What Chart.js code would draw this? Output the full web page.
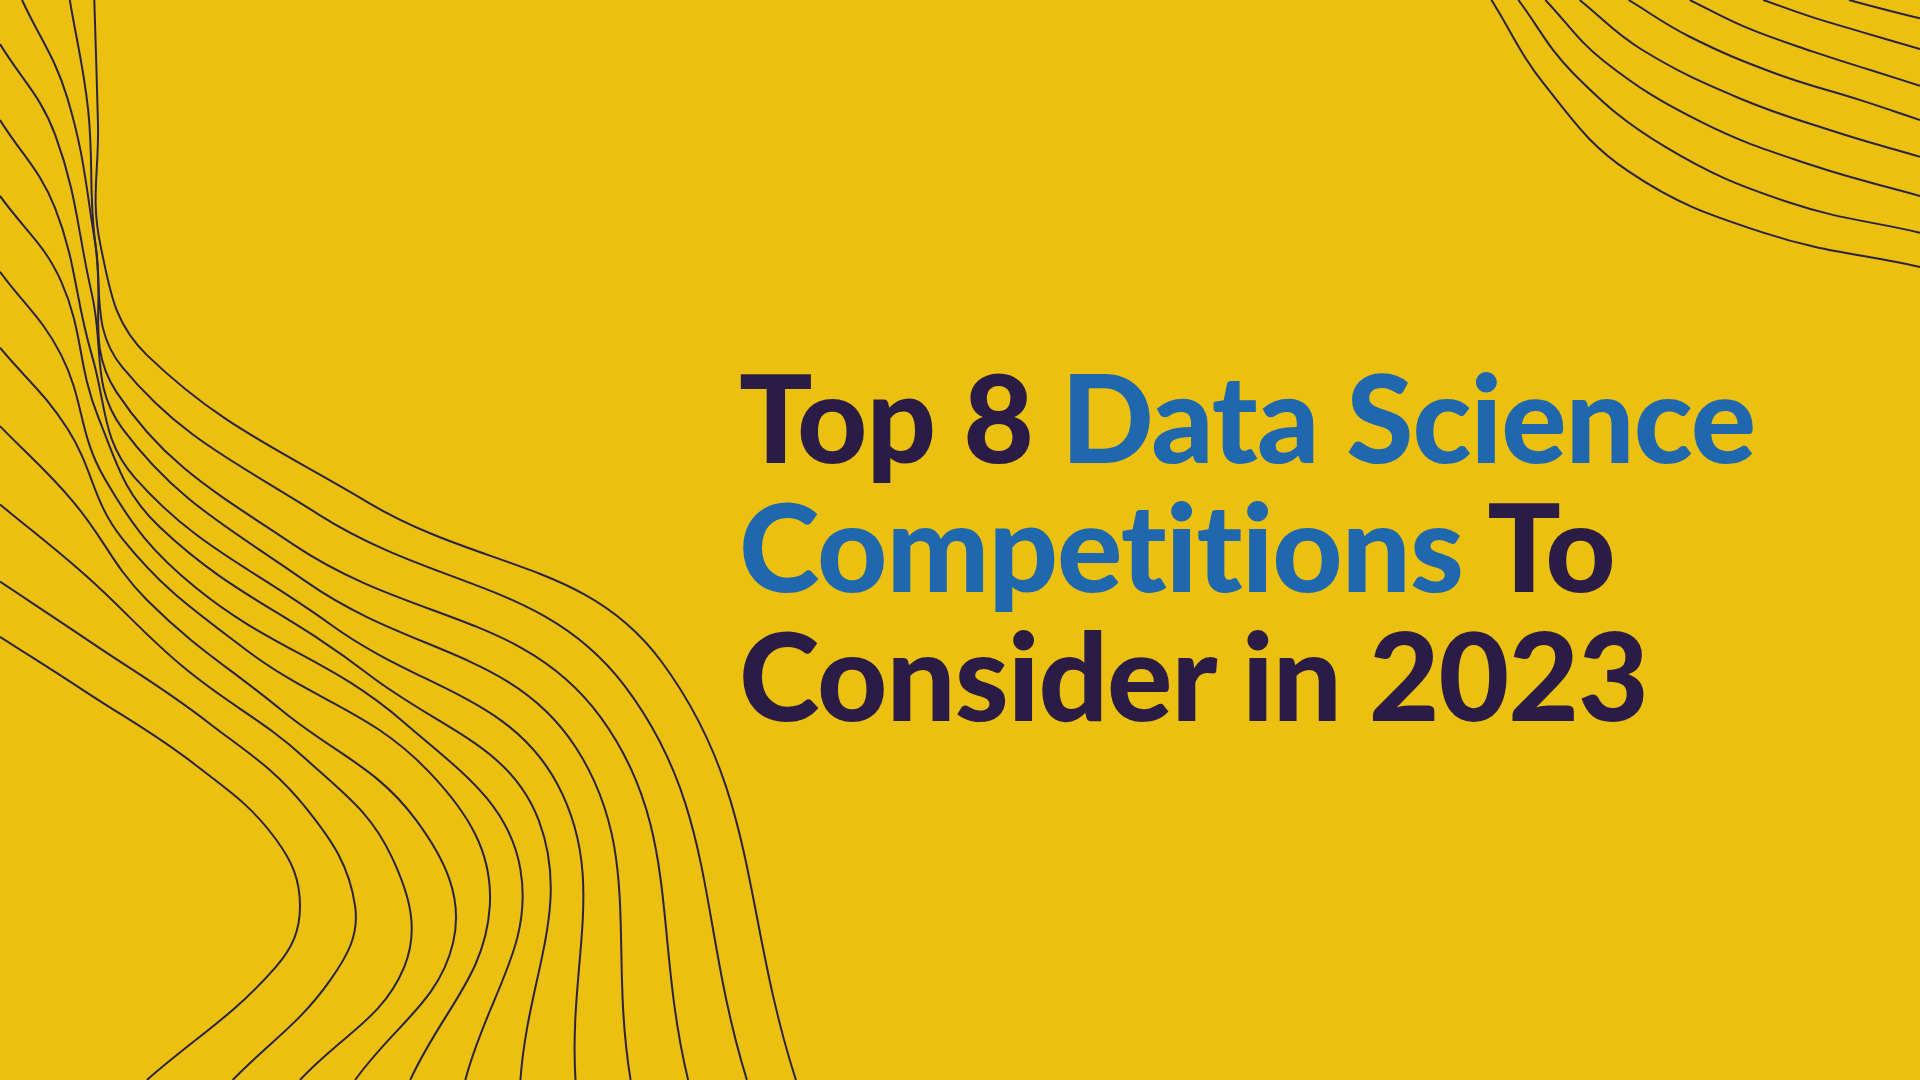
<!DOCTYPE html>
<html>
<head>
<meta charset="utf-8">
<script src="https://cdn.jsdelivr.net/npm/chart.js@4"></script>
<style>
  html, body { margin: 0; padding: 0; width: 1920px; height: 1080px; overflow: hidden; background: #ebc010; }
  #wrap { position: absolute; left: 0; top: 0; width: 1920px; height: 1080px; }
  .title {
    position: absolute; left: 739px; top: 352px;
    font-family: Lato, sans-serif; font-weight: 900; font-size: 122px;
    line-height: 129px; color: #2a1c45; letter-spacing: -1px; white-space: nowrap;
  }
  .blue { color: #1f68ae; }
</style>
</head>
<body>
<div id="wrap"><canvas id="bg"></canvas></div>
<div class="title">Top 8 <span class="blue">Data Science</span><br><span class="blue">Competitions</span> To<br>Consider in 2023</div>
<script>
// picture coordinates (0..1568 x 0..882)
const leftWaves = [
  [[0,520],[70,565],[160,625],[225,685],[245,740],[225,790],[120,882]],
  [[0,475],[75,525],[170,590],[250,660],[290,740],[270,800],[190,882]],
  [[0,412],[70,470],[150,545],[250,620],[320,700],[330,790],[245,882]],
  [[0,348],[60,410],[120,490],[230,580],[340,670],[370,770],[290,882]],
  [[0,284],[55,350],[100,440],[200,530],[350,630],[400,740],[335,882]],
  [[0,222],[50,290],[85,390],[160,480],[330,590],[425,710],[380,882]],
  [[0,160],[50,230],[80,340],[130,430],[300,550],[440,670],[425,882]],
  [[0,98],[45,170],[75,290],[110,390],[270,510],[455,640],[470,882]],
  [[0,36],[45,110],[75,240],[100,350],[250,475],[470,610],[515,882]],
  [[18,0],[55,80],[78,200],[95,320],[240,445],[490,585],[562,882]],
  [[57,0],[72,90],[78,200],[100,300],[260,420],[510,560],[610,882]],
  [[77,0],[80,100],[82,200],[120,290],[300,410],[540,540],[650,882]]
];
const cornerWaves = [
  [[1218,0],[1262,70],[1330,140],[1440,190],[1568,218]],
  [[1240,0],[1285,60],[1360,120],[1460,165],[1568,190]],
  [[1262,0],[1310,50],[1390,100],[1480,135],[1568,160]],
  [[1290,0],[1340,40],[1420,80],[1500,108],[1568,128]],
  [[1330,0],[1380,30],[1450,60],[1520,82],[1568,98]],
  [[1380,0],[1425,22],[1480,42],[1530,58],[1568,70]],
  [[1440,0],[1480,14],[1520,26],[1568,40]],
  [[1510,0],[1540,8],[1568,15]]
];
const lineColour = '#2b2340';

const datasets = leftWaves.concat(cornerWaves).map(pts => ({
  data: pts.map(p => ({ x: p[0], y: p[1] })),
  borderColor: lineColour,
  borderWidth: 2,
  pointRadius: 0,
  tension: 0.4,
  fill: false
}));

new Chart(document.getElementById('bg'), {
  type: 'scatter',
  data: { datasets: datasets },
  options: {
    responsive: true,
    maintainAspectRatio: false,
    animation: false,
    showLine: true,
    layout: { padding: 0 },
    plugins: { legend: { display: false }, tooltip: { enabled: false } },
    scales: {
      x: { type: 'linear', min: 0, max: 1568, display: false },
      y: { type: 'linear', min: 0, max: 882, reverse: true, display: false }
    }
  }
});
</script>
</body>
</html>
